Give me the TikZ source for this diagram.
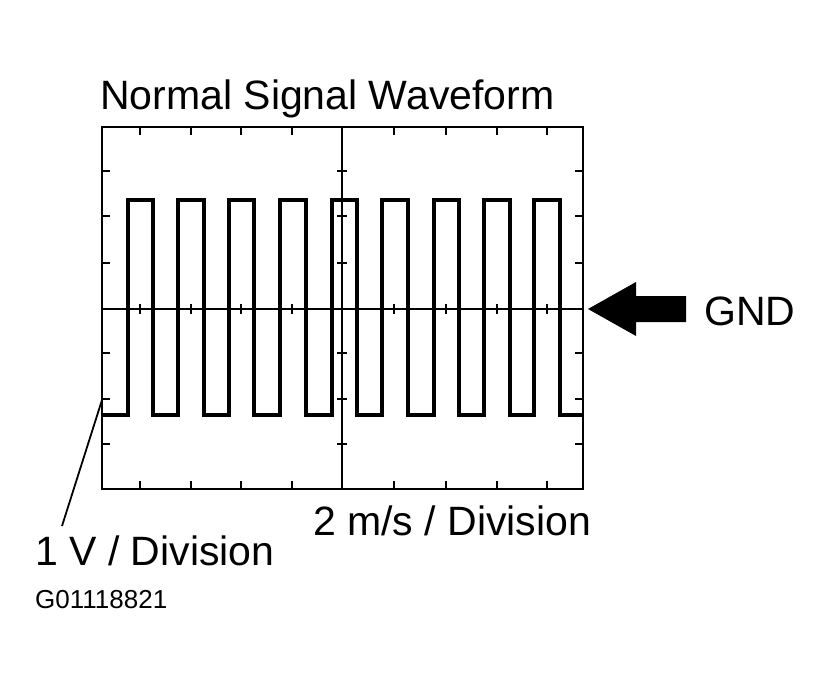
\documentclass[tikz,border=0pt]{standalone}
\usepackage{fontspec}
\setmainfont{Liberation Sans}
\begin{document}
\begin{tikzpicture}[x=1pt,y=-1pt,
  frame/.style={line width=2.8pt},
  wave/.style={line width=3.2pt,line join=miter},
  tick/.style={line width=1.6pt},
  lbl/.style={inner sep=0pt,font=\fontsize{41}{41}\selectfont}]
\useasboundingbox (0,0) rectangle (830,679);
\draw[frame] (102,127) rectangle (583,489);
\draw[frame] (342,127) -- (342,489);
\draw[frame] (102,309) -- (583,309);
\foreach \x in {140,191,241,292,394,446,497,547}{
  \draw[tick] (\x,127) -- (\x,135);
  \draw[tick] (\x,304) -- (\x,314);
  \draw[tick] (\x,489) -- (\x,481);}
\foreach \y in {171,216,263,353,399,444}{
  \draw[tick] (102,\y) -- (110,\y);
  \draw[tick] (337,\y) -- (347,\y);
  \draw[tick] (583,\y) -- (575,\y);}
\draw[wave] (102,415)
  \foreach \r/\f in {128/153,178/204,229/254,280/306,332/357,382/408,434/459,484/510,534/560}{
   -- (\r,415) -- (\r,200) -- (\f,200) -- (\f,415)} -- (583,415);
\node[lbl,anchor=base west] (title) at (100,110) {Normal Signal Waveform};
\node[lbl,anchor=base west] (gnd) at (704,325) {GND};
\fill (588,309) -- (636,282) -- (636,296) -- (686,296) -- (686,322) -- (636,322) -- (636,336) -- cycle;
\node[lbl,anchor=base west] (hdiv) at (313,535) {2 m/s / Division};
\node[lbl,anchor=base west] (vdiv) at (35,565) {1 V / Division};
\node[lbl,anchor=base west,font=\fontsize{26}{26}\selectfont] (code) at (35,608) {G01118821};
\coordinate (lead) at (102,400);
\draw[line width=1.8pt] (62,526) -- (lead);
\end{tikzpicture}
\end{document}
